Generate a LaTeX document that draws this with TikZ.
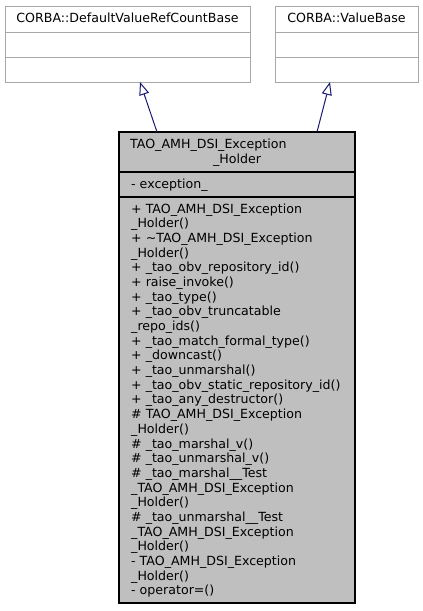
\documentclass[tikz,border=0pt]{standalone}
\usepackage{fontspec}
\setmainfont{DejaVu Sans}
\usetikzlibrary{arrows.meta}
\definecolor{navy}{HTML}{191970}
\definecolor{boxgray}{HTML}{BFBFBF}
\definecolor{lightborder}{HTML}{A8A8A8}
\tikzset{
  x=1pt, y=-1pt,
  basebox/.style={draw=lightborder, fill=white, line width=1pt, rectangle, inner sep=0pt, minimum width=#1, minimum height=76pt},
  mainbox/.style={draw=black, fill=boxgray, line width=1.3pt, rectangle, inner sep=0pt, minimum width=236pt, minimum height=471pt},
  txt/.style={inner sep=0pt, anchor=base west, font=\fontsize{12.6}{14.7}\selectfont},
  ctxt/.style={inner sep=0pt, anchor=base, font=\fontsize{12.6}{14.7}\selectfont},
  inherit/.style={draw=navy, line width=1pt, -{Triangle[open, length=13pt, width=10pt, fill=white]}}
}
\begin{document}
\begin{tikzpicture}
\useasboundingbox (0,0) rectangle (423,611);
% base classes
\node[basebox=245pt] (b1) at (127.5,44) {};
\draw[lightborder, line width=1pt] (5,32) -- (250,32) (5,57) -- (250,57);
\node[ctxt] (b1t) at (127.5,22) {CORBA::DefaultValueRefCountBase};
\node[basebox=143pt] (b2) at (346.5,44) {};
\draw[lightborder, line width=1pt] (275,32) -- (418,32) (275,57) -- (418,57);
\node[ctxt] (b2t) at (346.5,22) {CORBA::ValueBase};
% main class
\node[mainbox] (m) at (237,367.5) {};
\draw[black, line width=1.3pt] (119,172) -- (355,172) (119,197) -- (355,197);
\node[txt] (t1) at (130,148) {TAO\_AMH\_DSI\_Exception};
\node[ctxt] (t2) at (237,163) {\_Holder};
\node[txt] (a1) at (131,188) {- exception\_};
\foreach \t [count=\i] in {
  + TAO\_AMH\_DSI\_Exception,
  \_Holder(),
  + \textasciitilde TAO\_AMH\_DSI\_Exception,
  \_Holder(),
  + \_tao\_obv\_repository\_id(),
  + raise\_invoke(),
  + \_tao\_type(),
  + \_tao\_obv\_truncatable,
  \_repo\_ids(),
  + \_tao\_match\_formal\_type(),
  + \_downcast(),
  + \_tao\_unmarshal(),
  + \_tao\_obv\_static\_repository\_id(),
  + \_tao\_any\_destructor(),
  \# TAO\_AMH\_DSI\_Exception,
  \_Holder(),
  \# \_tao\_marshal\_v(),
  \# \_tao\_unmarshal\_v(),
  \# \_tao\_marshal\_\_Test,
  \_TAO\_AMH\_DSI\_Exception,
  \_Holder(),
  \# \_tao\_unmarshal\_\_Test,
  \_TAO\_AMH\_DSI\_Exception,
  \_Holder(),
  - TAO\_AMH\_DSI\_Exception,
  \_Holder(),
  - operator=()}
  \node[txt] (op\i) at (131,{213+(\i-1)*14.69}) {\t};
% inheritance arrows
\coordinate (s1) at (157,132);
\coordinate (e1) at (140,82);
\coordinate (s2) at (317,132);
\coordinate (e2) at (330,82);
\draw[inherit] (s1) -- (e1);
\draw[inherit] (s2) -- (e2);
\end{tikzpicture}
\end{document}
